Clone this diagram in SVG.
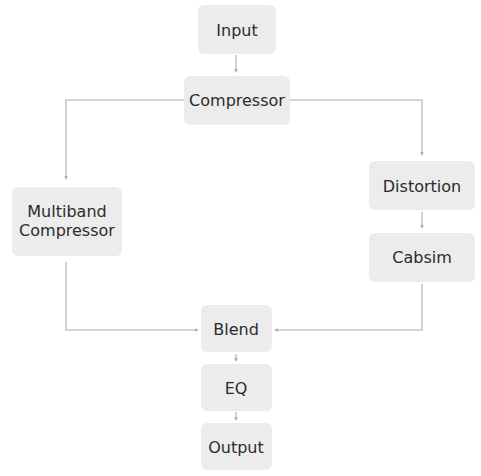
<svg xmlns="http://www.w3.org/2000/svg" width="481" height="476" viewBox="0 0 481 476">
<style>
.n{fill:#ececec;}
.t{font-family:"DejaVu Sans","Noto Sans",sans-serif;font-size:16px;fill:#2b2b2b;text-anchor:middle;dominant-baseline:central;}
.c{fill:none;stroke:#adadad;stroke-width:1.1;marker-end:url(#a);}
</style>
<defs>
<marker id="a" viewBox="0 0 6 6" refX="5" refY="3" markerWidth="3.5" markerHeight="3.5" orient="auto" markerUnits="strokeWidth">
<path d="M0,0 L6,3 L0,6 z" fill="#adadad"/>
</marker>
</defs>
<rect width="481" height="476" fill="#fff"/>
<g id="connectors">
<path class="c" d="M236,55 V72"/>
<path class="c" d="M184,100 H66 V179"/>
<path class="c" d="M290,100 H422 V155"/>
<path class="c" d="M422,212 V228"/>
<path class="c" d="M422,284 V330 H275"/>
<path class="c" d="M66,262 V330 H198"/>
<path class="c" d="M236,354 V361"/>
<path class="c" d="M236,412 V420"/>
</g>
<g id="input"><rect class="n" x="198" y="5" width="78" height="49" rx="6"/><text class="t" x="237" y="30">Input</text></g>
<g id="compressor"><rect class="n" x="184" y="76" width="106" height="49" rx="6"/><text class="t" x="237" y="100">Compressor</text></g>
<g id="multiband"><rect class="n" x="12" y="187" width="110" height="69" rx="6"/><text class="t" x="67" y="211.5">Multiband</text><text class="t" x="67" y="230.5">Compressor</text></g>
<g id="distortion"><rect class="n" x="369" y="161" width="106" height="49" rx="6"/><text class="t" x="422" y="186">Distortion</text></g>
<g id="cabsim"><rect class="n" x="369" y="233" width="106" height="49" rx="6"/><text class="t" x="422" y="257">Cabsim</text></g>
<g id="blend"><rect class="n" x="201" y="305" width="71" height="47" rx="6"/><text class="t" x="236" y="329">Blend</text></g>
<g id="eq"><rect class="n" x="201" y="364" width="71" height="47" rx="6"/><text class="t" x="236" y="388">EQ</text></g>
<g id="output"><rect class="n" x="201" y="423" width="71" height="47" rx="6"/><text class="t" x="236" y="447">Output</text></g>
</svg>
